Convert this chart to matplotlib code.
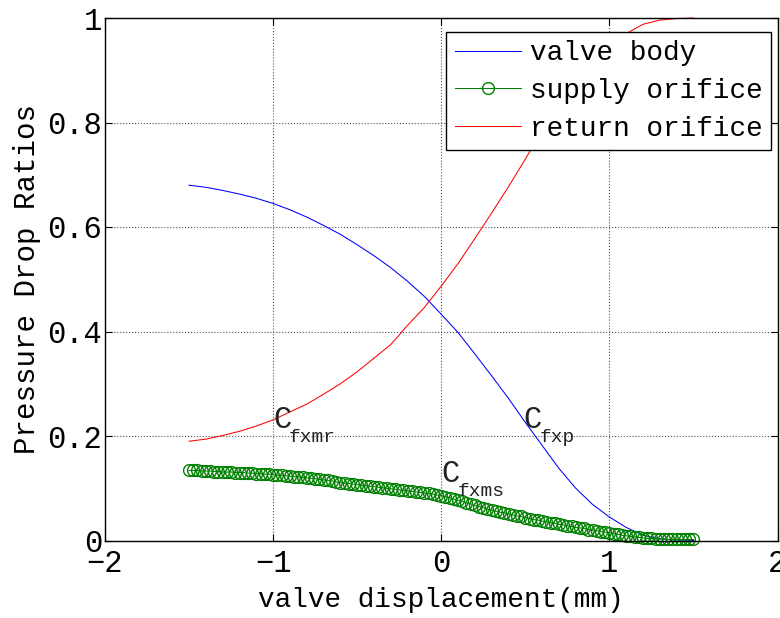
import matplotlib
matplotlib.use('Agg')
import matplotlib.pyplot as plt

# valve displacement (mm) for the two line series, step 0.1
x_line = [-1.5, -1.4, -1.3, -1.2, -1.1, -1.0, -0.9, -0.8, -0.7, -0.6, -0.5,
          -0.4, -0.3, -0.2, -0.1, 0.0, 0.1, 0.2, 0.3, 0.4, 0.5,
          0.6, 0.7, 0.8, 0.9, 1.0, 1.1, 1.2, 1.3, 1.4, 1.5]

valve_body = [0.680, 0.676, 0.670, 0.663, 0.655, 0.645, 0.633, 0.619, 0.603, 0.586, 0.566,
              0.545, 0.522, 0.496, 0.467, 0.433, 0.398, 0.357, 0.315, 0.272, 0.226,
              0.182, 0.138, 0.100, 0.069, 0.045, 0.025, 0.010, 0.003, 0.001, 0.000]

return_orifice = [0.190, 0.194, 0.201, 0.209, 0.219, 0.231, 0.246, 0.261, 0.280, 0.300, 0.323,
                  0.349, 0.375, 0.412, 0.446, 0.487, 0.530, 0.578, 0.627, 0.677, 0.730,
                  0.785, 0.835, 0.880, 0.915, 0.945, 0.970, 0.988, 0.996, 0.999, 1.000]

# supply orifice is drawn with dense markers, step 0.025
x_supply = [-1.500, -1.475, -1.450, -1.425, -1.400, -1.375, -1.350, -1.325, -1.300, -1.275,
            -1.250, -1.225, -1.200, -1.175, -1.150, -1.125, -1.100, -1.075, -1.050, -1.025,
            -1.000, -0.975, -0.950, -0.925, -0.900, -0.875, -0.850, -0.825, -0.800, -0.775,
            -0.750, -0.725, -0.700, -0.675, -0.650, -0.625, -0.600, -0.575, -0.550, -0.525,
            -0.500, -0.475, -0.450, -0.425, -0.400, -0.375, -0.350, -0.325, -0.300, -0.275,
            -0.250, -0.225, -0.200, -0.175, -0.150, -0.125, -0.100, -0.075, -0.050, -0.025,
            0.000, 0.025, 0.050, 0.075, 0.100, 0.125, 0.150, 0.175, 0.200, 0.225,
            0.250, 0.275, 0.300, 0.325, 0.350, 0.375, 0.400, 0.425, 0.450, 0.475,
            0.500, 0.525, 0.550, 0.575, 0.600, 0.625, 0.650, 0.675, 0.700, 0.725,
            0.750, 0.775, 0.800, 0.825, 0.850, 0.875, 0.900, 0.925, 0.950, 0.975,
            1.000, 1.025, 1.050, 1.075, 1.100, 1.125, 1.150, 1.175, 1.200, 1.225,
            1.250, 1.275, 1.300, 1.325, 1.350, 1.375, 1.400, 1.425, 1.450, 1.475, 1.500]

supply_orifice = [0.134, 0.134, 0.134, 0.133, 0.133, 0.133, 0.132, 0.132, 0.131, 0.131,
                  0.131, 0.130, 0.130, 0.130, 0.129, 0.129, 0.128, 0.128, 0.127, 0.127,
                  0.126, 0.125, 0.125, 0.124, 0.123, 0.122, 0.122, 0.121, 0.120, 0.119,
                  0.118, 0.117, 0.116, 0.115, 0.114, 0.112, 0.111, 0.110, 0.109, 0.108,
                  0.107, 0.106, 0.105, 0.104, 0.103, 0.102, 0.101, 0.100, 0.099, 0.098,
                  0.097, 0.096, 0.095, 0.094, 0.093, 0.092, 0.091, 0.090, 0.089, 0.087,
                  0.086, 0.084, 0.082, 0.079, 0.077, 0.075, 0.072, 0.070, 0.067, 0.065,
                  0.063, 0.060, 0.058, 0.056, 0.054, 0.053, 0.051, 0.049, 0.047, 0.046,
                  0.044, 0.042, 0.040, 0.039, 0.037, 0.036, 0.034, 0.033, 0.031, 0.030,
                  0.028, 0.027, 0.025, 0.024, 0.023, 0.021, 0.020, 0.019, 0.017, 0.016,
                  0.015, 0.013, 0.012, 0.010, 0.009, 0.008, 0.007, 0.006, 0.005, 0.004,
                  0.004, 0.003, 0.003, 0.003, 0.002, 0.002, 0.002, 0.002, 0.002, 0.002, 0.002]

x_ticks = [-2, -1, 0, 1, 2]
x_ticklabels = ['\u22122', '\u22121', '0', '1', '2']
y_ticks = [0, 0.2, 0.4, 0.6, 0.8, 1]
y_ticklabels = ['0', '0.2', '0.4', '0.6', '0.8', '1']

# annotations: (x, y, main letter, subscript)
labels = [(-1.0, 0.215, 'C', 'fxmr'),
          (0.0, 0.112, 'C', 'fxms'),
          (0.49, 0.215, 'C', 'fxp')]

font = 'Liberation Mono'
plt.rcParams['font.family'] = [font, 'DejaVu Sans']
plt.rcParams['font.size'] = 20

fig = plt.figure(figsize=(7.8, 6.18), dpi=100)
ax = fig.add_axes([105 / 780, 1 - 540.5 / 618, 672.5 / 780, 522.5 / 618])

ax.plot(x_line, valve_body, color='#0000ff', lw=0.75, label='valve body')
ax.plot(x_supply, supply_orifice, color='#008000', lw=0.75, marker='o',
        markersize=8.5, markerfacecolor='none', markeredgewidth=1.0,
        label='supply orifice', clip_on=False)
ax.plot(x_line, return_orifice, color='#ff0000', lw=0.75, label='return orifice',
        clip_on=False)

for lx, ly, main, sub in labels:
    ax.text(lx, ly, main, fontsize=22, color='#222222', ha='left', va='baseline')
    ax.annotate(sub, xy=(lx, ly), xytext=(11.5, -10), textcoords='offset points',
                fontsize=14, color='#222222', ha='left', va='baseline')

ax.set_xlim(-2, 2)
ax.set_ylim(0, 1)
ax.set_xticks(x_ticks)
ax.set_xticklabels(x_ticklabels)
ax.set_yticks(y_ticks)
ax.set_yticklabels(y_ticklabels)
ax.tick_params(direction='in', length=5, width=0.8, top=True, right=True,
               labelsize=22, colors='black')
ax.tick_params(axis='x', pad=6)
ax.tick_params(axis='y', pad=2)
for s in ax.spines.values():
    s.set_linewidth(1.0)

ax.grid(True, linestyle=':', color='#555555', linewidth=0.8)
ax.set_xlabel('valve displacement(mm)', fontsize=20, labelpad=6)
ax.set_ylabel('Pressure Drop Ratios', fontsize=21, labelpad=5)

leg = ax.legend(loc='upper right', bbox_to_anchor=(0.990, 0.973), borderaxespad=0,
                fancybox=False, framealpha=1, edgecolor='black', fontsize=20,
                handlelength=2.4, handletextpad=0.3, labelspacing=0.42,
                borderpad=0.3)
leg.get_frame().set_linewidth(1.0)

plt.savefig('out.png', dpi=100)
